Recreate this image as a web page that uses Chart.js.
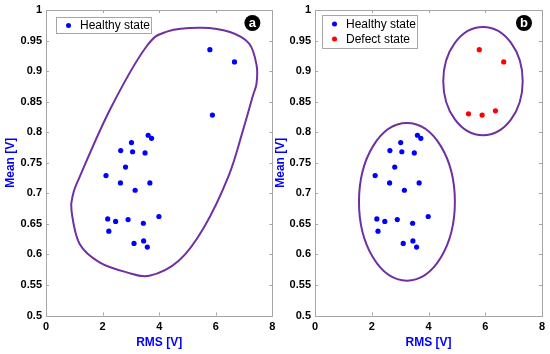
<!DOCTYPE html>
<html>
<head>
<meta charset="utf-8">
<script src="https://cdn.jsdelivr.net/npm/chart.js@4.4.1/dist/chart.umd.min.js"></script>
<style>
  html, body { margin: 0; padding: 0; background: #ffffff; }
  #wrap { position: relative; width: 550px; height: 354px; }
  .pane { position: absolute; top: 0; width: 275px; height: 354px; }
  #paneA { left: 0; }
  #paneB { left: 275px; }
</style>
</head>
<body>
<div id="wrap">
  <div class="pane" id="paneA"><canvas id="chartA" width="275" height="354"></canvas></div>
  <div class="pane" id="paneB"><canvas id="chartB" width="275" height="354"></canvas></div>
</div>
<script>
// ---------- Data ----------
const healthyRMS  = [3.61, 3.73, 3.02, 2.64, 3.06, 3.50, 2.81, 2.12, 2.63, 3.67, 3.15,
                     2.18, 2.46, 2.90, 3.44, 3.99, 2.22, 3.11, 3.45, 3.58];
const healthyMean = [0.795, 0.790, 0.783, 0.770, 0.768, 0.766, 0.743, 0.729, 0.717, 0.717, 0.705,
                     0.658, 0.654, 0.657, 0.651, 0.662, 0.638, 0.618, 0.622, 0.612];
// upper-right points treated as healthy in panel (a)
const extraRMS_A  = [5.79, 6.66, 5.88];
const extraMean_A = [0.935, 0.915, 0.828];
// defect points in panel (b)
const defectRMS   = [5.79, 6.65, 5.41, 5.89, 6.36];
const defectMean  = [0.935, 0.915, 0.830, 0.828, 0.835];

const xTicks = [0, 2, 4, 6, 8];
const yTicks = ['0.5', '0.55', '0.6', '0.65', '0.7', '0.75', '0.8', '0.85', '0.9', '0.95', '1'];

// boundary outline in panel (a), data units [RMS, Mean]
const blobRMS  = [5.50, 6.50, 7.18, 7.44, 7.44, 7.30, 6.96, 6.45, 5.58, 4.70, 3.65, 2.83, 1.89, 1.19, 0.90, 0.96, 1.19, 2.25, 3.53, 4.30];
const blobMean = [0.971, 0.964, 0.945, 0.910, 0.880, 0.858, 0.803, 0.728, 0.644, 0.590, 0.565, 0.571, 0.587, 0.617, 0.672, 0.699, 0.727, 0.836, 0.939, 0.965];
// ellipses in panel (b): [centre RMS, centre Mean, half-width RMS, half-height Mean]
const healthyEllipse = [3.24, 0.686, 1.69, 0.129];
const defectEllipse  = [5.92, 0.8835, 1.40, 0.0885];

// ---------- Helpers ----------
const FONT = "'Liberation Sans', Arial, sans-serif";
const BLUE = '#0000ff';
const RED = '#ff0000';
const PURPLE = '#7030a0';
const AXIS = '#a6a6a6';

function pts(xs, ys) { return xs.map((x, i) => ({ x: x, y: ys[i] })); }

const decorPlugin = {
  id: 'decor',
  afterDatasetsDraw(chart, args, opts) {
    const ctx = chart.ctx;
    const xs = chart.scales.x, ys = chart.scales.y;
    const a = chart.chartArea;
    ctx.save();
    ctx.beginPath();
    ctx.rect(a.left, a.top, a.right - a.left, a.bottom - a.top);
    ctx.clip();
    ctx.strokeStyle = PURPLE;
    ctx.lineWidth = 2;
    if (opts.blob) {
      const P = opts.blob[0].map((x, i) => [xs.getPixelForValue(x), ys.getPixelForValue(opts.blob[1][i])]);
      const n = P.length;
      ctx.beginPath();
      ctx.moveTo(P[0][0], P[0][1]);
      for (let i = 0; i < n; i++) {
        const p0 = P[(i - 1 + n) % n], p1 = P[i], p2 = P[(i + 1) % n], p3 = P[(i + 2) % n];
        const c1 = [p1[0] + (p2[0] - p0[0]) / 6, p1[1] + (p2[1] - p0[1]) / 6];
        const c2 = [p2[0] - (p3[0] - p1[0]) / 6, p2[1] - (p3[1] - p1[1]) / 6];
        ctx.bezierCurveTo(c1[0], c1[1], c2[0], c2[1], p2[0], p2[1]);
      }
      ctx.closePath();
      ctx.stroke();
    }
    (opts.ellipses || []).forEach(e => {
      const cx = xs.getPixelForValue(e[0]), cy = ys.getPixelForValue(e[1]);
      const rx = Math.abs(xs.getPixelForValue(e[0] + e[2]) - cx);
      const ry = Math.abs(ys.getPixelForValue(e[1] + e[3]) - cy);
      ctx.beginPath();
      ctx.ellipse(cx, cy, rx, ry, 0, 0, Math.PI * 2);
      ctx.stroke();
    });
    ctx.restore();

    // axes box + inward ticks
    ctx.save();
    ctx.strokeStyle = AXIS;
    ctx.lineWidth = 1;
    ctx.strokeRect(Math.round(a.left) + 0.5, Math.round(a.top) + 0.5, Math.round(a.right - a.left), Math.round(a.bottom - a.top));
    const tl = 3;
    ctx.beginPath();
    xs.ticks.forEach(t => {
      const px = Math.round(xs.getPixelForValue(t.value)) + 0.5;
      ctx.moveTo(px, a.bottom); ctx.lineTo(px, a.bottom - tl);
      ctx.moveTo(px, a.top); ctx.lineTo(px, a.top + tl);
    });
    ys.ticks.forEach(t => {
      const py = Math.round(ys.getPixelForValue(t.value)) + 0.5;
      ctx.moveTo(a.left, py); ctx.lineTo(a.left + tl, py);
      ctx.moveTo(a.right, py); ctx.lineTo(a.right - tl, py);
    });
    ctx.stroke();
    ctx.restore();

    // legend
    const L = opts.legend;
    ctx.save();
    ctx.fillStyle = '#ffffff';
    ctx.fillRect(L.x, L.y, L.w, L.h);
    ctx.strokeStyle = AXIS;
    ctx.lineWidth = 1;
    ctx.strokeRect(L.x + 0.5, L.y + 0.5, L.w, L.h);
    ctx.font = '12px ' + FONT;
    ctx.textBaseline = 'middle';
    ctx.textAlign = 'left';
    chart.data.datasets.forEach((ds, i) => {
      const yy = L.y + L.first + i * L.step;
      ctx.fillStyle = ds.backgroundColor;
      ctx.beginPath();
      ctx.arc(L.x + 12.5, yy, 2.5, 0, Math.PI * 2);
      ctx.fill();
      ctx.fillStyle = '#000000';
      ctx.fillText(ds.label, L.x + 24, yy + 0.5);
    });
    ctx.restore();

    // badge
    ctx.save();
    const bx = a.right - opts.badgeDx, by = a.top + opts.badgeDy;
    ctx.fillStyle = '#000000';
    ctx.beginPath();
    ctx.arc(bx, by, 8, 0, Math.PI * 2);
    ctx.fill();
    ctx.fillStyle = '#ffffff';
    ctx.font = 'bold 13px ' + FONT;
    ctx.textAlign = 'center';
    ctx.textBaseline = 'middle';
    ctx.fillText(opts.badge, bx, by + 0.5);
    ctx.restore();
  }
};

function makeChart(id, datasets, decor, yWidth, padRight, yTitlePad) {
  return new Chart(document.getElementById(id), {
    type: 'scatter',
    data: { datasets: datasets },
    options: {
      responsive: false,
      animation: false,
      layout: { padding: { top: 10, right: padRight, bottom: 0, left: 0 } },
      plugins: { legend: { display: false }, tooltip: { enabled: false }, decor: decor },
      elements: { point: { radius: 2.6, borderWidth: 0, hoverRadius: 2.6 } },
      scales: {
        x: {
          type: 'linear', min: 0, max: 8,
          afterBuildTicks: s => { s.ticks = xTicks.map(v => ({ value: v })); },
          ticks: { color: '#000', font: { family: FONT, size: 11, weight: 'bold' }, padding: 5,
                   callback: v => String(v), maxRotation: 0 },
          grid: { display: false, drawTicks: false },
          border: { display: false },
          title: { display: true, text: 'RMS [V]', color: BLUE,
                   font: { family: FONT, size: 12, weight: 'bold' }, padding: { top: 2, bottom: 4.5 } },
          afterFit: s => { s.height = 38.5; s.paddingLeft = 0; s.paddingRight = 0; }
        },
        y: {
          type: 'linear', min: 0.5, max: 1,
          afterBuildTicks: s => { s.ticks = yTicks.map(v => ({ value: parseFloat(v) })); },
          ticks: { color: '#000', font: { family: FONT, size: 11, weight: 'bold' }, padding: 4,
                   callback: (v, i) => yTicks[i] },
          grid: { display: false, drawTicks: false },
          border: { display: false },
          title: { display: true, text: 'Mean [V]', color: BLUE,
                   font: { family: FONT, size: 12, weight: 'bold' }, padding: { top: yTitlePad, bottom: 0 } },
          afterFit: s => { s.width = yWidth; s.paddingTop = 0; s.paddingBottom = 0; }
        }
      }
    },
    plugins: [decorPlugin]
  });
}

makeChart('chartA',
  [{ label: 'Healthy state', data: pts(healthyRMS.concat(extraRMS_A), healthyMean.concat(extraMean_A)), backgroundColor: BLUE, borderColor: BLUE }],
  { blob: [blobRMS, blobMean], ellipses: [], badge: 'a', badgeDx: 20, badgeDy: 13,
    legend: { x: 56, y: 17, w: 95, h: 16, first: 8.5, step: 15 } },
  46, 1, 3);

makeChart('chartB',
  [{ label: 'Healthy state', data: pts(healthyRMS, healthyMean), backgroundColor: BLUE, borderColor: BLUE },
   { label: 'Defect state', data: pts(defectRMS, defectMean), backgroundColor: RED, borderColor: RED }],
  { ellipses: [healthyEllipse, defectEllipse], badge: 'b', badgeDx: 18, badgeDy: 13,
    legend: { x: 47, y: 15, w: 95, h: 33, first: 9, step: 15 } },
  40, 8, -2);
</script>
</body>
</html>
